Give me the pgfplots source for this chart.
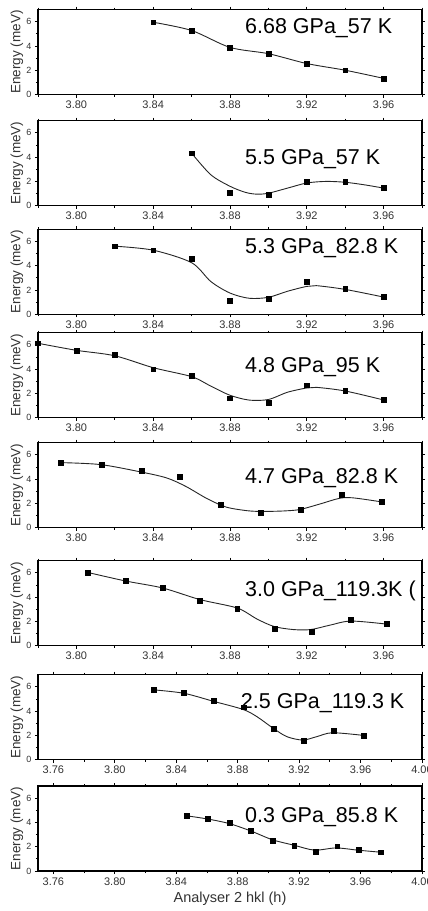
\documentclass[border=0pt]{standalone}
\usepackage{fontspec}
\setmainfont{Liberation Sans}
\usepackage{pgfplots}
\pgfplotsset{compat=1.18}

% common look of the eight stacked panels
\pgfplotsset{
  panel/.style={
    scale only axis, width=384pt, height=85pt, anchor=north west,
    ymin=0, ymax=7, ytick={0,2,4,6}, minor ytick={1,3,5},
    xmin=3.78, xmax=3.98,
    xtick={3.80,3.84,3.88,3.92,3.96},
    minor xtick={3.78,3.82,3.86,3.90,3.94,3.98},
    tick align=outside, major tick length=3pt, minor tick length=2pt,
    axis line style={line width=1.1pt},
    every tick/.style={black, line width=0.8pt},
    /pgf/number format/assume math mode=true,
    xticklabel style={font=\fontsize{11}{11}\selectfont, text=black!80,
      /pgf/number format/fixed, /pgf/number format/precision=2,
      /pgf/number format/fixed zerofill},
    yticklabel style={font=\fontsize{9}{9}\selectfont, text=black!80},
    ylabel={Energy (meV)},
    ylabel style={font=\fontsize{13.5}{13.5}\selectfont, text=black!80,
      at={(axis description cs:-0.055,0.5)}, anchor=center},
    pts/.style={only marks, mark=square*, mark size=2.4pt, black},
    fit/.style={smooth, no marks, line width=0.9pt, black!85},
  },
  wide/.style={xmin=3.75, xmax=4.00,
    xtick={3.76,3.80,3.84,3.88,3.92,3.96,4.00},
    minor xtick={3.78,3.82,3.86,3.90,3.94,3.98}},
}
\newcommand{\tag}[2]{\node[anchor=west, inner sep=0pt,
  font=\fontsize{21.5}{21.5}\selectfont] at (rel axis cs:0.539,#1) {#2};}

\begin{document}
\begin{tikzpicture}

\begin{axis}[panel, at={(38pt,-9.5pt)}]
\addplot[fit] coordinates {(3.84,5.95)(3.86,5.27)(3.88,3.88)(3.90,3.36)(3.92,2.55)(3.94,2.0)(3.96,1.33)};
\addplot[pts] coordinates {(3.84,5.95)(3.86,5.27)(3.88,3.88)(3.90,3.36)(3.92,2.55)(3.94,2.0)(3.96,1.33)};
\tag{0.782}{6.68 GPa\_57 K}
\end{axis}

\begin{axis}[panel, at={(38pt,-120.7pt)}]
\addplot[fit] coordinates {(3.86,4.33)(3.87,2.55)(3.88,1.6)(3.888,1.1)(3.894,0.95)(3.90,1.03)(3.91,1.45)(3.92,1.87)(3.93,2.0)(3.94,1.93)(3.95,1.72)(3.96,1.45)};
\addplot[pts] coordinates {(3.86,4.33)(3.88,1.05)(3.90,0.92)(3.92,2.0)(3.94,1.95)(3.96,1.45)};
\tag{0.549}{5.5 GPa\_57 K}
\end{axis}

\begin{axis}[panel, at={(38pt,-229.3pt)}]
\addplot[fit] coordinates {(3.82,5.61)(3.84,5.28)(3.86,4.25)(3.87,2.7)(3.88,1.75)(3.89,1.32)(3.90,1.4)(3.91,1.9)(3.92,2.3)(3.925,2.36)(3.94,2.05)(3.96,1.42)};
\addplot[pts] coordinates {(3.82,5.61)(3.84,5.28)(3.86,4.56)(3.88,1.14)(3.90,1.31)(3.92,2.67)(3.94,2.11)(3.96,1.42)};
\tag{0.776}{5.3 GPa\_82.8 K}
\end{axis}

\begin{axis}[panel, at={(38pt,-332.7pt)}]
\addplot[fit] coordinates {(3.78,6.13)(3.80,5.55)(3.82,5.1)(3.84,4.12)(3.86,3.38)(3.87,2.6)(3.88,1.85)(3.89,1.45)(3.90,1.5)(3.91,2.1)(3.92,2.45)(3.925,2.5)(3.94,2.2)(3.96,1.46)};
\addplot[pts] coordinates {(3.78,6.13)(3.80,5.5)(3.82,5.19)(3.84,4.0)(3.86,3.43)(3.88,1.6)(3.90,1.24)(3.92,2.68)(3.94,2.21)(3.96,1.46)};
\tag{0.595}{4.8 GPa\_95 K}
\end{axis}

\begin{axis}[panel, at={(38pt,-442.7pt)}]
\addplot[fit] coordinates {(3.792,5.36)(3.8125,5.2)(3.8333,4.6)(3.847,4.1)(3.857,3.4)(3.868,2.4)(3.878,1.7)(3.889,1.4)(3.897,1.34)(3.908,1.38)(3.9164,1.5)(3.927,1.96)(3.937,2.42)(3.944,2.46)(3.958,2.15)};
\addplot[pts] coordinates {(3.792,5.36)(3.813,5.2)(3.834,4.69)(3.854,4.19)(3.875,1.87)(3.896,1.23)(3.917,1.48)(3.938,2.74)(3.959,2.15)};
\tag{0.583}{4.7 GPa\_82.8 K}
\end{axis}

\begin{axis}[panel, at={(38pt,-560.7pt)}]
\addplot[fit] coordinates {(3.806,6.03)(3.8256,5.33)(3.845,4.75)(3.8643,3.8)(3.8838,3.1)(3.894,2.2)(3.903,1.58)(3.913,1.33)(3.922,1.33)(3.932,1.69)(3.943,2.03)(3.9616,1.78)};
\addplot[pts] coordinates {(3.806,6.03)(3.8256,5.33)(3.845,4.81)(3.8643,3.72)(3.8838,3.08)(3.9033,1.42)(3.9226,1.17)(3.943,2.17)(3.9616,1.78)};
\tag{0.65}{3.0 GPa\_119.3K (}
\end{axis}

\begin{axis}[panel, wide, at={(38pt,-674.7pt)}]
\addplot[fit] coordinates {(3.8255,5.75)(3.845,5.47)(3.8645,4.8)(3.8835,4.14)(3.8926,3.54)(3.903,2.6)(3.912,1.9)(3.9224,1.62)(3.9315,1.9)(3.9417,2.22)(3.962,2.0)};
\addplot[pts] coordinates {(3.8255,5.78)(3.845,5.5)(3.8645,4.83)(3.884,4.33)(3.9035,2.53)(3.923,1.58)(3.9425,2.42)(3.962,2.0)};
\node[anchor=west, inner sep=0pt, font=\fontsize{21.5}{21.5}\selectfont]
  at (rel axis cs:0.528,0.662) {2.5 GPa\_119.3 K};
\end{axis}

\begin{axis}[panel, wide, at={(38pt,-786pt)},
  xlabel={Analyser 2 hkl (h)},
  xlabel style={font=\fontsize{14.5}{14.5}\selectfont, text=black!80}]
\addplot[fit] coordinates {(3.8466,4.55)(3.8606,4.28)(3.8747,3.9)(3.8887,3.29)(3.9027,2.57)(3.9168,2.12)(3.930,1.72)(3.944,1.9)(3.958,1.72)(3.9729,1.55)};
\addplot[pts] coordinates {(3.8466,4.55)(3.8606,4.3)(3.8747,3.95)(3.8887,3.3)(3.9027,2.5)(3.9168,2.1)(3.9308,1.56)(3.9448,2.04)(3.9589,1.78)(3.9729,1.55)};
\tag{0.637}{0.3 GPa\_85.8 K}
\end{axis}

\pgfresetboundingbox
\path[use as bounding box] (0,0) rectangle (428pt,-911pt);
\end{tikzpicture}
\end{document}
